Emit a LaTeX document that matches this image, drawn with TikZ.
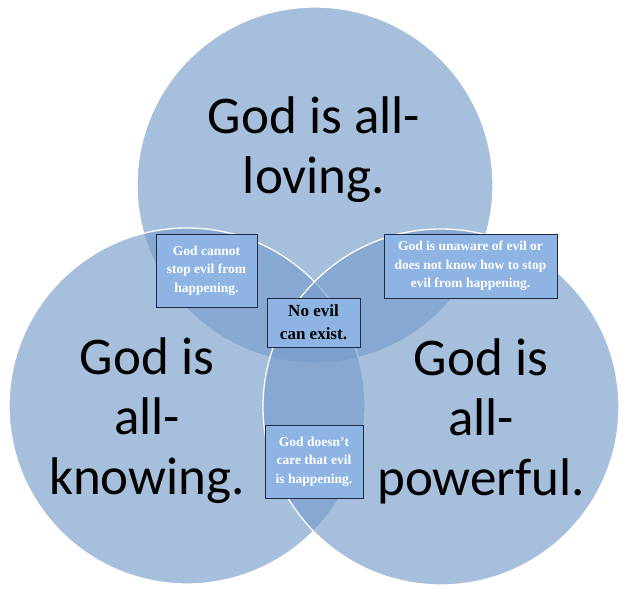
\documentclass[tikz,border=0pt]{standalone}
\usepackage{fontspec}
\setmainfont{Liberation Serif}
\newfontfamily\calib{Carlito}
\definecolor{circfill}{RGB}{116,155,202}
\definecolor{boxfill}{RGB}{142,180,227}
\definecolor{boxline}{RGB}{31,42,68}

\begin{document}
\begin{tikzpicture}[x=1pt,y=-1pt,
    venn/.style={fill=circfill,fill opacity=0.64,draw=white,draw opacity=1,line width=1.3pt},
    bigtext/.style={align=center,font=\calib\fontsize{53}{60}\selectfont},
    notebox/.style={draw=boxline,fill=boxfill,line width=0.8pt,align=center,inner sep=0pt,
        text=white,font=\bfseries\fontsize{13.5}{18.5}\selectfont}]
            \useasboundingbox(0,0)rectangle(640,596);
            \coordinate(L)at(315,185);
            \coordinate(K)at(187,406);
            \coordinate(P)at(441,407);
            \draw[venn](L)circle(178);
            \draw[venn](K)circle(178);
            \draw[venn](P)circle(178);
            \node[bigtext](loving)at(314,150){God is all-\\loving.};
            \node[bigtext](knowing)at(147,421){God is\\all-\\knowing.};
            \node[bigtext](powerful)at(481,421){God is\\all-\\powerful.};
            \node[notebox,minimum width=101,minimum height=73](stop)at(206.5,270.5){God cannot\\stop evil from\\happening.};
            \node[notebox,minimum width=173,minimum height=64](unaware)at(470.5,266){God is unaware of evil or\\does not know how to stop\\evil from happening.};
            \node[notebox,minimum width=93,minimum height=49,text=black,
                font=\bfseries\fontsize{17}{23}\selectfont](noevil)at(313.5,322.5){No evil\\can exist.};
            \node[notebox,minimum width=98,minimum height=73](care)at(314,461.5){God doesn’t\\care that evil\\is happening.};
        \end{tikzpicture}
\end{document}
